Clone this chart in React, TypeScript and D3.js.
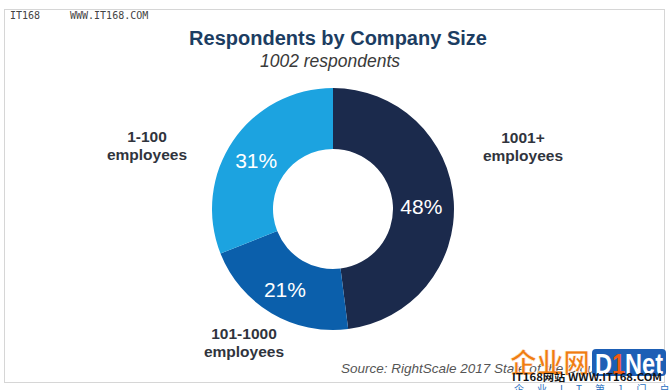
import React from "react";
import * as d3 from "d3";

// company size shares, clockwise from 12 o'clock
const categories = ["1001+", "101-1000", "1-100"];
const shares = [48, 21, 31];
const colours = ["#1b2a4c", "#0b5fab", "#1ca3e0"];

const title = "Respondents by Company Size";
const subtitle = "1002 respondents";
const source = "Source: RightScale 2017 State of the Cloud Report";

// label placement relative to the donut centre
const labelOffsets: [number, number][] = [
  [190, -66],
  [-89, 130],
  [-186, -67],
];

export default function App() {
  const width = 670;
  const height = 390;
  const cx = 333;
  const cy = 209;
  const outerR = 121;
  const innerR = 60;

  const pie = d3.pie<number>().sort(null).value((d) => d);
  const arcs = pie(shares);
  const arc = d3.arc<d3.PieArcDatum<number>>().innerRadius(innerR).outerRadius(outerR);

  const total = d3.sum(shares);
  const fmt = (v: number) => Math.round((v / total) * 100) + "%";

  return (
    <svg
      width={width}
      height={height}
      style={{ position: "absolute", left: 0, top: 0, background: "#fff" }}
      fontFamily="'Liberation Sans', Arial, sans-serif"
    >
      <rect x={4.5} y={9.5} width={660} height={373} fill="#fff" stroke="#d6d6d6" />

      {/* top-left watermark */}
      <text x={10} y={19} fontSize={10} fill="#444" fontFamily="'DejaVu Sans Mono', monospace">IT168</text>
      <text x={70} y={19} fontSize={10} fill="#444" fontFamily="'DejaVu Sans Mono', monospace">WWW.IT168.COM</text>

      <text x={338} y={45} textAnchor="middle" fontSize={20} fontWeight="bold" fill="#1c3d62">
        {title}
      </text>
      <text x={330} y={67} textAnchor="middle" fontSize={17.5} fontStyle="italic" fill="#3a3a3a">
        {subtitle}
      </text>

      <g transform={`translate(${cx},${cy})`}>
        {arcs.map((a, i) => (
          <path key={i} d={arc(a) || ""} fill={colours[i]} />
        ))}
        {arcs.map((a, i) => {
          const [x, y] = arc.centroid(a);
          return (
            <text
              key={"p" + i}
              x={x - 2}
              y={y + 3}
              dy="0.35em"
              textAnchor="middle"
              fontSize={21}
              fill="#fff"
            >
              {fmt(a.data)}
            </text>
          );
        })}
        {categories.map((c, i) => (
          <text
            key={"l" + i}
            x={labelOffsets[i][0]}
            y={labelOffsets[i][1]}
            textAnchor="middle"
            fontSize={15.5}
            fontWeight="bold"
            fill="#30343d"
          >
            <tspan x={labelOffsets[i][0]}>{c}</tspan>
            <tspan x={labelOffsets[i][0]} dy={18}>employees</tspan>
          </text>
        ))}
      </g>

      <text x={341} y={373} fontSize={13.5} fontStyle="italic" fill="#555">
        {source}
      </text>

      {/* bottom-right watermark */}
      <g>
        <text x={510} y={373} fontSize={27} fontWeight="bold" fill="#f07c12" stroke="#fff" strokeWidth={0.6}
          textLength={80} lengthAdjust="spacingAndGlyphs"
          fontFamily="'Noto Sans CJK SC', sans-serif">企业网</text>
        <rect x={592} y={349} width={74} height={27} rx={4} fill="#1d5fb5" />
        <text x={595} y={374} fontSize={30} fontWeight="bold" fill="#fff"
          textLength={68} lengthAdjust="spacingAndGlyphs">
          D<tspan fill="#f05a14">1</tspan>Net
        </text>
        <text x={512} y={381} fontSize={10} fontWeight="bold" fill="#111"
          textLength={150} lengthAdjust="spacingAndGlyphs"
          fontFamily="'Noto Sans CJK SC', sans-serif">IT168网站 WWW.IT168.COM</text>
        <text x={514} y={393} fontSize={10} fill="#2a6fc0" letterSpacing={13}
          fontFamily="'Noto Sans CJK SC', sans-serif">企业IT第1门户</text>
      </g>
    </svg>
  );
}
